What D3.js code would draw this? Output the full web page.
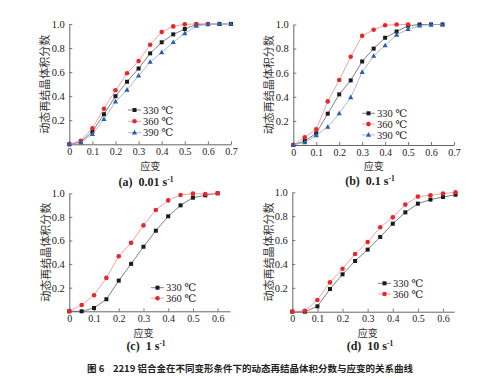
<!DOCTYPE html>
<html><head><meta charset="utf-8">
<script src="https://cdn.jsdelivr.net/npm/d3@7"></script>
<style>
html,body{margin:0;padding:0;background:#fff;}
svg{display:block;}
text{white-space:pre;}
</style></head>
<body><svg id="c" width="500" height="379"></svg>
<script>
// strain values
const strainA = [0,0.05,0.1,0.15,0.2,0.25,0.3,0.35,0.4,0.45,0.5,0.55,0.6,0.65,0.7];
const a330 = [0,0.02,0.105,0.25,0.40,0.52,0.63,0.756,0.848,0.914,0.958,0.995,1.0,1.0,1.0];
const a360 = [0,0.03,0.133,0.296,0.449,0.59,0.693,0.828,0.934,0.98,0.997,1.0,1.0];
const a390 = [0,0.014,0.083,0.208,0.355,0.452,0.57,0.684,0.764,0.848,0.922,0.983,0.997,1.0,1.0];

const strainB = [0,0.05,0.1,0.15,0.2,0.25,0.3,0.35,0.4,0.45,0.5,0.55,0.6,0.65];
const b330 = [0,0.033,0.097,0.26,0.42,0.536,0.693,0.80,0.89,0.942,0.99,1.0,1.0,1.0];
const b360 = [0,0.064,0.13,0.362,0.539,0.732,0.906,0.956,0.994,1.0,1.0];
const b390 = [0,0.022,0.08,0.149,0.262,0.395,0.605,0.738,0.826,0.914,0.961,0.99,1.0,1.0];

const strainC = [0,0.05,0.1,0.15,0.2,0.25,0.3,0.35,0.4,0.45,0.5,0.55,0.6];
const c330 = [0,0.0,0.028,0.102,0.26,0.402,0.547,0.683,0.805,0.898,0.963,0.983,1.0];
const c360 = [0,0.054,0.136,0.283,0.467,0.58,0.728,0.858,0.94,0.986,0.997,0.994,1.0];

const strainD = [0,0.05,0.1,0.15,0.2,0.25,0.3,0.35,0.4,0.45,0.5,0.55,0.6,0.65];
const d330 = [0,0.0,0.045,0.19,0.313,0.425,0.52,0.626,0.737,0.832,0.905,0.939,0.961,0.98];
const d360 = [0,0.008,0.098,0.246,0.36,0.483,0.584,0.707,0.79,0.897,0.964,0.975,0.989,1.0];

const xTicksA = [0,0.1,0.2,0.3,0.4,0.5,0.6,0.7];
const xTicksC = [0,0.1,0.2,0.3,0.4,0.5,0.6];
const yTicks = [0.2,0.4,0.6,0.8,1.0];
const seriesNames = ["330 ℃","360 ℃","390 ℃"];
const panelTitles = ["(a)  0.01 s","(b)  0.1 s","(c)  1 s","(d)  10 s"];
const yLabel = "动态再结晶体积分数";
const xLabel = "应变";
const caption = "图 6    2219 铝合金在不同变形条件下的动态再结晶体积分数与应变的关系曲线";

const styles = [
  {line:"#606060", fill:"#1a1a1a", shape:"square"},
  {line:"#f08a8a", fill:"#e8262c", shape:"circle"},
  {line:"#8fa9d8", fill:"#2b5cb0", shape:"triangle"}
];

const panels = [
  {x0:69.3, x1:231, xmax:0.7, y0:144.3, y1:24, ticks:xTicksA, xs:strainA, series:[a330,a360,a390],
   legend:{x:128, y:110, dy:11.3}, ylabX:45, xlabY:166.5, titleX:146, titleY:186},
  {x0:293.3, x1:454, xmax:0.7, y0:145, y1:24.5, ticks:xTicksA, xs:strainB, series:[b330,b360,b390],
   legend:{x:362, y:113.3, dy:10.8}, ylabX:269, xlabY:166.5, titleX:370, titleY:185},
  {x0:69.3, x1:230, xmax:0.65, y0:311.3, y1:193.3, ticks:xTicksC, xs:strainC, series:[c330,c360],
   legend:{x:151, y:287.7, dy:10.5}, ylabX:46, xlabY:333, titleX:146, titleY:350},
  {x0:292.3, x1:454.3, xmax:0.645, y0:311.7, y1:192.3, ticks:xTicksC, xs:strainD, series:[d330,d360],
   legend:{x:378, y:283.3, dy:10.7}, ylabX:269, xlabY:333, titleX:370, titleY:350}
];

const svg = d3.select("#c");
const serif = "'Liberation Serif','DejaVu Serif',serif";
const cjk = "'Noto Sans CJK SC','Noto Sans CJK JP',sans-serif";

function marker(g, shape, x, y, fill){
  if(shape==="square"){
    g.append("rect").attr("x",x-2).attr("y",y-2).attr("width",4).attr("height",4).attr("fill",fill);
  } else if(shape==="circle"){
    g.append("circle").attr("cx",x).attr("cy",y).attr("r",2.3).attr("fill",fill);
  } else {
    g.append("path").attr("d",`M${x},${y-2.8}L${x+2.6},${y+1.8}L${x-2.6},${y+1.8}Z`).attr("fill",fill);
  }
}

panels.forEach((p,pi)=>{
  const x = d3.scaleLinear().domain([0,p.xmax]).range([p.x0,p.x1]);
  const y = d3.scaleLinear().domain([0,1]).range([p.y0,p.y1]);
  const g = svg.append("g");

  // x axis
  const xa = g.append("g").attr("transform",`translate(0,${p.y0})`)
    .call(d3.axisBottom(x).tickValues(p.ticks).tickSizeInner(-3).tickSizeOuter(0)
      .tickFormat(d=>d===0?"0":d3.format(".1f")(d)));
  xa.select(".domain").attr("stroke","#555").attr("stroke-width",0.9);
  xa.selectAll(".tick line").attr("stroke","#555").attr("stroke-width",0.8);
  xa.selectAll(".tick text").attr("y",3.5).attr("dy","0.71em")
    .attr("font-family",serif).attr("font-size",10).attr("fill","#222");

  // y axis
  const ya = g.append("g").attr("transform",`translate(${p.x0},0)`)
    .call(d3.axisLeft(y).tickValues(yTicks).tickSizeInner(-3).tickSizeOuter(0)
      .tickFormat(d3.format(".1f")));
  ya.select(".domain").attr("stroke","#555").attr("stroke-width",0.9);
  ya.selectAll(".tick line").attr("stroke","#555").attr("stroke-width",0.8);
  ya.selectAll(".tick text").attr("x",-4.5)
    .attr("font-family",serif).attr("font-size",10.5).attr("fill","#222");

  // series
  p.series.forEach((vals,si)=>{
    const st = styles[si];
    const pts = vals.map((v,i)=>[p.xs[i],v]);
    g.append("path").datum(pts)
      .attr("d", d3.line().x(d=>x(d[0])).y(d=>y(d[1])))
      .attr("fill","none").attr("stroke",st.line).attr("stroke-width",0.8);
    pts.forEach(d=>marker(g, st.shape, x(d[0]), y(d[1]), st.fill));
  });

  // legend
  p.series.forEach((vals,si)=>{
    const st = styles[si];
    const ly = p.legend.y + si*p.legend.dy;
    g.append("line").attr("x1",p.legend.x).attr("x2",p.legend.x+13).attr("y1",ly).attr("y2",ly)
      .attr("stroke",st.line).attr("stroke-width",0.8);
    marker(g, st.shape, p.legend.x+6.5, ly, st.fill);
    g.append("text").attr("x",p.legend.x+15).attr("y",ly).attr("dy","0.35em")
      .attr("font-family",serif).attr("font-size",10.5).attr("fill","#222").text(seriesNames[si]);
  });

  // y label
  g.append("text").attr("transform",`translate(${p.ylabX},${(p.y0+p.y1)/2}) rotate(-90)`)
    .attr("text-anchor","middle").attr("dy","0.35em")
    .attr("font-family",cjk).attr("font-size",11).attr("fill","#333").text(yLabel);

  // x label
  g.append("text").attr("x",(p.x0+x(p.ticks[p.ticks.length-1]))/2).attr("y",p.xlabY)
    .attr("text-anchor","middle").attr("dy","0.35em")
    .attr("font-family",cjk).attr("font-size",10).attr("fill","#333").text(xLabel);

  // panel title
  const t = g.append("text").attr("x",p.titleX).attr("y",p.titleY)
    .attr("text-anchor","middle")
    .attr("font-family",serif).attr("font-size",12).attr("font-weight","bold").attr("fill","#222");
  t.append("tspan").text(panelTitles[pi]);
  t.append("tspan").attr("font-size",7.5).attr("dy",-4.5).text("-1");
});

svg.append("text").attr("x",250).attr("y",369).attr("text-anchor","middle").attr("dy","0.35em")
  .attr("font-family",cjk).attr("font-size",9.5).attr("font-weight","bold").attr("fill","#222")
  .text(caption);
</script>
</body></html>
